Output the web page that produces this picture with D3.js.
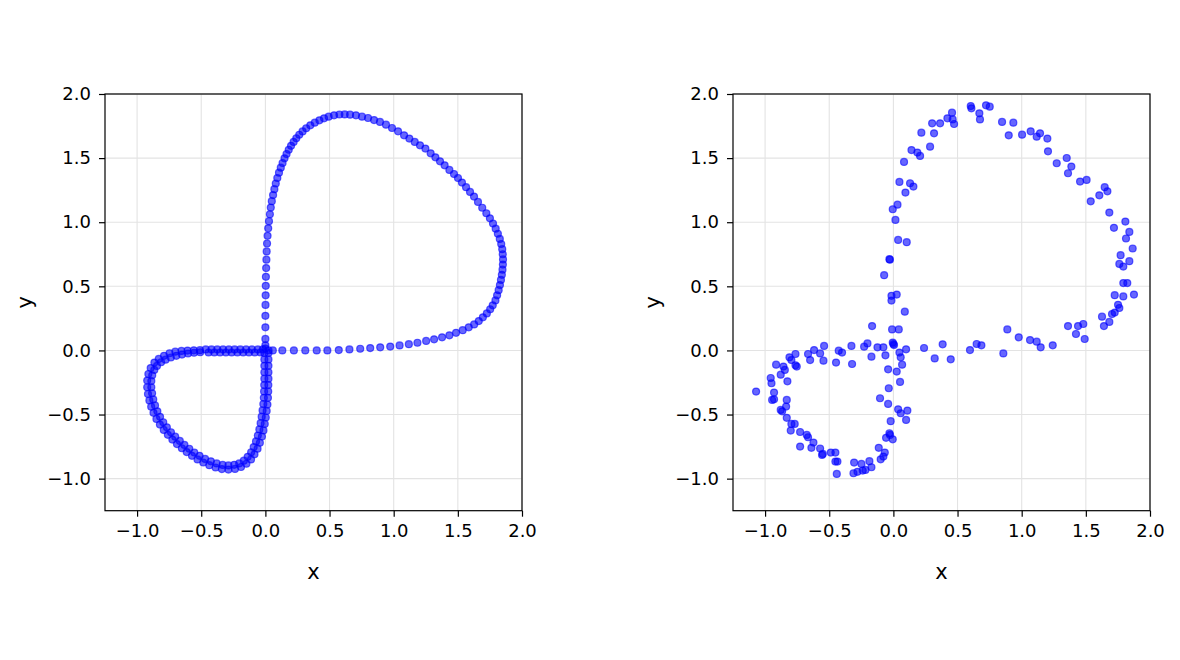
<!DOCTYPE html>
<html><head><meta charset="utf-8">
<script src="https://cdn.jsdelivr.net/npm/d3@7"></script>
<style>body{margin:0;background:#fff;} svg{display:block;} text{font-family:"DejaVu Sans",sans-serif;}</style>
</head><body><svg id="c" width="1180" height="660"></svg>
<script>
const xTicks=[-1.0,-0.5,0.0,0.5,1.0,1.5,2.0];
const yTicks=[-1.0,-0.5,0.0,0.5,1.0,1.5,2.0];
const xDomain=[-1.25,2.0];
const yDomain=[-1.25,2.0];
const xLabel="x", yLabel="y";

// clean trajectory (left panel)
const cleanRightward=[[0.025,0],[0.058,0],[0.132,0],[0.222,0],[0.311,0],[0.40,0],[0.483,0],[0.572,0.003],[0.655,0.008],[0.739,0.013],[0.817,0.018],[0.895,0.024],[0.973,0.03],[1.046,0.039],[1.118,0.049],[1.185,0.06],[1.253,0.074],[1.315,0.087],[1.377,0.102],[1.434,0.118],[1.486,0.137],[1.538,0.158],[1.585,0.18],[1.627,0.203],[1.663,0.229],[1.695,0.258],[1.726,0.289],[1.752,0.321],[1.772,0.352]];
const cleanRightSide=[[1.793,0.39],[1.806,0.43],[1.818,0.47],[1.828,0.51],[1.836,0.55],[1.843,0.59],[1.848,0.63],[1.851,0.67],[1.852,0.71],[1.85,0.75],[1.846,0.79],[1.838,0.83],[1.827,0.87],[1.812,0.91],[1.795,0.95],[1.774,0.99],[1.75,1.03]];
const cleanUpperArc=[[1.722,1.07],[1.69,1.113],[1.657,1.158],[1.626,1.2],[1.595,1.236],[1.564,1.273],[1.532,1.309],[1.501,1.345],[1.47,1.376],[1.434,1.408],[1.397,1.444],[1.361,1.475],[1.325,1.506],[1.288,1.537],[1.247,1.574],[1.205,1.6],[1.164,1.626],[1.122,1.652],[1.081,1.678],[1.034,1.709],[0.987,1.735],[0.94,1.761],[0.893,1.782],[0.847,1.797],[0.8,1.813],[0.753,1.823],[0.706,1.834],[0.66,1.839],[0.618,1.841],[0.577,1.84],[0.535,1.834],[0.493,1.823],[0.457,1.81],[0.421,1.795],[0.385,1.776]];
const cleanDescent=[[0.35,1.756],[0.318,1.733],[0.29,1.708],[0.264,1.682],[0.241,1.655],[0.22,1.626],[0.2,1.596],[0.182,1.565],[0.165,1.532],[0.149,1.498],[0.134,1.462],[0.12,1.425],[0.106,1.386],[0.093,1.345],[0.081,1.302],[0.07,1.258],[0.06,1.212],[0.05,1.164],[0.042,1.114],[0.035,1.062],[0.028,1.008],[0.022,0.952],[0.017,0.894],[0.013,0.834],[0.01,0.772],[0.008,0.708],[0.006,0.642],[0.004,0.574],[0.003,0.504],[0.002,0.43],[0.001,0.355],[0,0.27],[0,0.18],[0,0.09],[0,0.04],[0,0.015]];
const cleanLoopOuter=[[0.024,-0.02],[0.024,-0.07],[0.024,-0.12],[0.024,-0.17],[0.024,-0.22],[0.023,-0.27],[0.022,-0.32],[0.02,-0.37],[0.016,-0.422],[0.01,-0.472],[0.003,-0.523],[-0.005,-0.573],[-0.015,-0.624],[-0.027,-0.672],[-0.043,-0.72],[-0.061,-0.766],[-0.085,-0.81],[-0.112,-0.85],[-0.148,-0.884],[-0.19,-0.909],[-0.237,-0.924],[-0.288,-0.929],[-0.339,-0.925],[-0.388,-0.913],[-0.437,-0.895],[-0.484,-0.874],[-0.529,-0.85],[-0.572,-0.822],[-0.613,-0.793],[-0.651,-0.763],[-0.689,-0.73],[-0.725,-0.695],[-0.76,-0.658],[-0.792,-0.62],[-0.822,-0.578],[-0.849,-0.534],[-0.872,-0.487],[-0.89,-0.439],[-0.904,-0.39],[-0.915,-0.34],[-0.921,-0.287],[-0.921,-0.235],[-0.912,-0.184],[-0.894,-0.138],[-0.865,-0.095],[-0.831,-0.066],[-0.79,-0.042],[-0.747,-0.022],[-0.702,-0.01],[-0.654,-0.004],[-0.607,-0.001],[-0.558,0.001],[-0.51,0.002]];
const cleanLoopInner=[[-0.008,-0.02],[-0.008,-0.07],[-0.008,-0.12],[-0.008,-0.17],[-0.008,-0.22],[-0.009,-0.27],[-0.01,-0.32],[-0.012,-0.37],[-0.016,-0.418],[-0.022,-0.468],[-0.029,-0.517],[-0.037,-0.567],[-0.047,-0.616],[-0.059,-0.664],[-0.073,-0.71],[-0.091,-0.754],[-0.111,-0.794],[-0.138,-0.83],[-0.168,-0.86],[-0.204,-0.881],[-0.243,-0.892],[-0.288,-0.897],[-0.333,-0.893],[-0.38,-0.881],[-0.425,-0.865],[-0.47,-0.846],[-0.513,-0.822],[-0.554,-0.796],[-0.593,-0.767],[-0.631,-0.737],[-0.667,-0.706],[-0.703,-0.673],[-0.736,-0.638],[-0.768,-0.6],[-0.796,-0.56],[-0.821,-0.518],[-0.842,-0.475],[-0.86,-0.429],[-0.874,-0.382],[-0.883,-0.334],[-0.889,-0.287],[-0.889,-0.239],[-0.882,-0.194],[-0.866,-0.152],[-0.845,-0.121],[-0.813,-0.092],[-0.778,-0.072],[-0.737,-0.055],[-0.694,-0.042],[-0.65,-0.032],[-0.603,-0.024],[-0.556,-0.018],[-0.508,-0.014]];
const cleanReturn=[[-0.465,0.008],[-0.42,0.008],[-0.375,0.008],[-0.33,0.008],[-0.285,0.008],[-0.24,0.008],[-0.195,0.008],[-0.15,0.008],[-0.105,0.008],[-0.06,0.008],[-0.02,0.008],[-0.443,-0.016],[-0.398,-0.016],[-0.353,-0.016],[-0.308,-0.016],[-0.263,-0.016],[-0.218,-0.016],[-0.173,-0.016],[-0.128,-0.016],[-0.083,-0.016],[-0.038,-0.016]];

// noisy samples (right panel)
const noisyPoints=[[0.302,1.771],[0.364,1.771],[0.218,1.698],[0.317,1.693],[0.286,1.589],[0.141,1.563],[0.187,1.543],[0.208,1.517],[0.083,1.47],[0.047,1.314],[0.13,1.304],[0.156,1.278],[0.094,1.231],[0.032,1.137],[-0.005,1.101],[0.016,1.018],[0.037,0.862],[0.104,0.844],[-0.031,0.712],[-0.027,0.708],[-0.072,0.587],[-0.015,0.426],[0.026,0.436],[-0.015,0.389],
[0.421,1.81],[0.457,1.854],[0.462,1.802],[0.473,1.766],[0.603,1.906],[0.608,1.888],[0.67,1.849],[0.675,1.802],[0.722,1.912],[0.751,1.901],[0.847,1.782],[0.935,1.776],[0.899,1.678],[1.003,1.683],[1.07,1.709],[1.117,1.667],[1.143,1.693],[1.2,1.652],[1.205,1.553],[1.273,1.46],[1.351,1.501],[1.387,1.434],[1.361,1.382],[1.455,1.317],[1.506,1.33],[1.538,1.163],[1.605,1.21],[1.647,1.273],[1.668,1.241],[1.683,1.075],[1.719,0.956],[1.808,1.005],[1.839,0.924],[1.813,0.873],[1.865,0.795],[1.771,0.743],[1.839,0.696],[1.761,0.675],[1.792,0.654],[1.792,0.525],[1.823,0.525],[1.725,0.431],[1.792,0.421],[1.875,0.436],[1.751,0.356],
[0.384,0.048],[0.447,-0.069],[0.597,0.003],[0.649,0.05],[0.686,0.04],[0.857,-0.023],[0.888,0.164],[0.977,0.102],[1.065,0.081],[1.117,0.068],[1.148,0.024],[1.242,0.04],[1.361,0.19],[1.423,0.128],[1.439,0.19],[1.48,0.206],[1.491,0.089],[1.626,0.263],[1.641,0.19],[1.683,0.222],[1.704,0.284],[1.725,0.295],[1.761,0.331],
[0.089,0.302],[-0.166,0.19],[-0.01,0.164],[0.042,0.164],[-0.005,0.061],[0.005,0.042],[0.0,0.05],[0.239,0.019],[0.322,-0.062],[0.099,0.009],[0.047,-0.017],[0.057,-0.054],[0.068,-0.111],[0.026,-0.165],[-0.041,-0.147],[0.052,-0.246],[-0.036,-0.295],[-0.104,-0.373],[-0.041,-0.417],[0.037,-0.459],[0.057,-0.49],[0.109,-0.469],[0.099,-0.542],[-0.021,-0.552],[-0.031,-0.646],[-0.026,-0.659],[-0.057,-0.682],[-0.005,-0.693],[-0.114,-0.76],[-0.067,-0.797],[-0.078,-0.828],[-0.099,-0.849],
[-0.228,0.029],[-0.202,0.055],[-0.124,0.024],[-0.078,0.024],[-0.062,-0.038],[-0.171,-0.049],[-0.327,0.035],[-0.322,-0.106],[-0.4,-0.017],[-0.426,-0.002],[-0.447,-0.095],[-0.54,0.035],[-0.545,-0.08],[-0.618,0.003],[-0.571,-0.023],[-0.649,-0.075],[-0.665,-0.028],[-0.763,-0.028],[-0.81,-0.054],[-0.795,-0.075],[-0.753,-0.126],[-0.763,-0.116],[-0.914,-0.111],[-0.857,-0.126],[-0.846,-0.152],[-0.878,-0.189],[-0.956,-0.215],[-0.95,-0.256],[-0.826,-0.241],[-1.07,-0.321],[-0.93,-0.329],[-0.93,-0.381],[-0.945,-0.386],[-0.831,-0.386],[-0.836,-0.438],[-0.878,-0.464],[-0.867,-0.475],[-0.831,-0.526],[-0.795,-0.573],[-0.8,-0.625],[-0.769,-0.573],[-0.727,-0.636],[-0.727,-0.75],[-0.675,-0.659],[-0.665,-0.677],[-0.623,-0.719],[-0.639,-0.76],[-0.571,-0.765],[-0.55,-0.807],[-0.556,-0.815],[-0.488,-0.797],[-0.452,-0.797],[-0.452,-0.867],[-0.436,-0.867],[-0.441,-0.963],[-0.306,-0.875],[-0.311,-0.958],[-0.249,-0.885],[-0.239,-0.937],[-0.218,-0.932],[-0.187,-0.864],[-0.171,-0.911],[-0.28,-0.947]];

const cleanPoints=[].concat(cleanRightward,cleanRightSide,cleanUpperArc,cleanDescent,cleanLoopOuter,cleanLoopInner,cleanReturn);

const svg=d3.select("#c");
const panels=[{left:105,data:cleanPoints},{left:733,data:noisyPoints}];
const plotTop=94, plotBottom=510.7, plotWidth=417;
const fmt=d3.format(".1f");

panels.forEach(p=>{
  const x=d3.scaleLinear().domain(xDomain).range([p.left,p.left+plotWidth]);
  const y=d3.scaleLinear().domain(yDomain).range([plotBottom,plotTop]);
  const g=svg.append("g");
  g.append("g").selectAll("line").data(xTicks).join("line")
    .attr("x1",d=>x(d)).attr("x2",d=>x(d)).attr("y1",plotTop).attr("y2",plotBottom)
    .attr("stroke","#e3e3e3").attr("stroke-width",1.1);
  g.append("g").selectAll("line").data(yTicks).join("line")
    .attr("y1",d=>y(d)).attr("y2",d=>y(d)).attr("x1",p.left).attr("x2",p.left+plotWidth)
    .attr("stroke","#e3e3e3").attr("stroke-width",1.1);
  g.append("g").selectAll("circle").data(p.data).join("circle")
    .attr("cx",d=>x(d[0])).attr("cy",d=>y(d[1])).attr("r",3.5)
    .attr("fill","#0000ff").attr("fill-opacity",0.6)
    .attr("stroke","#0000ff").attr("stroke-opacity",0.6).attr("stroke-width",1.2);
  const ax=g.append("g").attr("transform",`translate(0,${plotBottom})`)
    .call(d3.axisBottom(x).tickValues(xTicks).tickFormat(fmt).tickSize(6).tickPadding(8));
  const ay=g.append("g").attr("transform",`translate(${p.left},0)`)
    .call(d3.axisLeft(y).tickValues(yTicks).tickFormat(fmt).tickSize(6).tickPadding(8));
  [ax,ay].forEach(a=>{
    a.select(".domain").remove();
    a.attr("font-family","DejaVu Sans").attr("font-size",18);
    a.selectAll("line").attr("stroke","#000").attr("stroke-width",1.2);
    a.selectAll("text").attr("fill","#000");
  });
  g.append("rect").attr("x",p.left).attr("y",plotTop).attr("width",plotWidth).attr("height",plotBottom-plotTop)
    .attr("fill","none").attr("stroke","#000").attr("stroke-width",1.2);
  g.append("text").attr("x",p.left+plotWidth/2).attr("y",579).attr("text-anchor","middle")
    .attr("font-size",21).attr("fill","#000").text(xLabel);
  g.append("text").attr("transform",`translate(${p.left-73.5},${(plotTop+plotBottom)/2}) rotate(-90)`)
    .attr("text-anchor","middle").attr("font-size",21).attr("fill","#000").text(yLabel);
});
</script></body></html>
